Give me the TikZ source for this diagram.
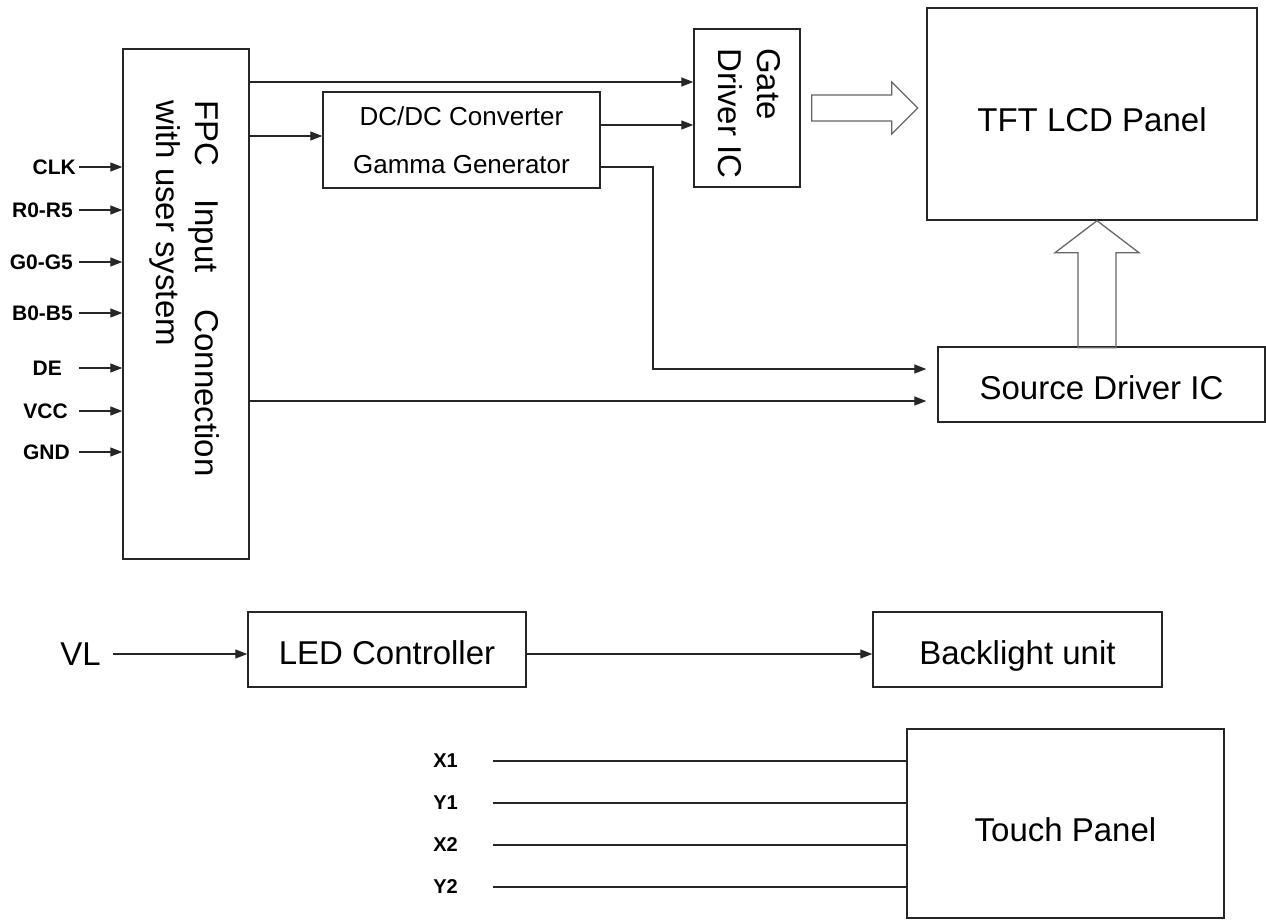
\documentclass[tikz,border=0pt]{standalone}
\usepackage{fontspec}
\setmainfont{Liberation Sans}
\usetikzlibrary{arrows.meta, calc}

\begin{document}
\begin{tikzpicture}[x=1pt, y=-1pt,
        blk/.style={draw=black!85, line width=1.4pt, inner sep=0pt, text height=30pt, text depth=0pt, font=\fontsize{33}{38}\selectfont},
        vtxt/.style={rotate=-90, inner sep=0pt, anchor=base west, font=\fontsize{33}{38}\selectfont},
        pin/.style={inner sep=0pt, anchor=east, font=\fontsize{21}{24}\selectfont\bfseries},
        arr/.style={line width=1.3pt, draw=black!85, -{Triangle[length=12pt,width=9pt]}},
        wire/.style={line width=1.3pt, draw=black!85},
        hollow/.style={line width=1.3pt, draw=black!60, line join=miter}]
        \useasboundingbox (0,0) rectangle (1266,920);

        % blocks
        \node[blk, minimum width=126pt, minimum height=510pt] (fpc) at (186,304) {};
        \node[blk, text height=, text depth=, minimum width=277pt, minimum height=96pt, align=center, font=\fontsize{26}{47.5}\selectfont] (dcdc) at (461.5,140) {DC/DC Converter\\Gamma Generator};
        \node[blk, minimum width=106pt, minimum height=158pt] (gate) at (747,108) {};
        \node[blk, minimum width=330pt, minimum height=212pt, text height=36pt] (tft) at (1092,114) {TFT LCD Panel};
        \node[blk, minimum width=327pt, minimum height=75pt] (src) at (1101.5,384.5) {Source Driver IC};
        \node[blk, minimum width=278pt, minimum height=75pt] (led) at (387,649.5) {LED Controller};
        \node[blk, minimum width=289pt, minimum height=75pt] (bl) at (1017.5,649.5) {Backlight unit};
        \node[blk, minimum width=317pt, minimum height=189pt, text height=36pt] (touch) at (1065.5,823.5) {Touch Panel};

        % rotated texts
        \node[vtxt] (fpc-l1) at (195,100) {FPC\hspace{33pt}Input\hspace{37pt}Connection};
        \node[vtxt] (fpc-l2) at (156,100) {with user system};
        \node[vtxt] (gate-l1) at (757,48) {Gate};
        \node[vtxt] (gate-l2) at (718,48) {Driver IC};

        % inputs of the FPC
        \foreach \id/\txt/\xr/\y in {clk/CLK/76/167, r/R0-R5/73/210, g/G0-G5/73/262, b/B0-B5/73/313, de/DE/62/368, vcc/VCC/68/411, gnd/GND/70/452} {
            \node[pin] (\id) at (\xr,\y) {\txt};
            \coordinate (\id-s) at (79,\y);
            \draw[arr] (\id-s) -- (\id-s -| fpc.west);
        }

        % FPC outputs
        \draw[arr] (fpc.east |- 0,82) -- (gate.west |- 0,82);
        \draw[arr] (fpc.east |- 0,136) -- (dcdc.west |- 0,136);
        \draw[arr] (dcdc.east |- 0,125) -- (gate.west |- 0,125);
        \draw[arr, shorten >=11pt] (dcdc.east |- 0,167) -| (653,369) -- (src.west |- 0,369);
        \draw[arr, shorten >=11pt] (fpc.east |- 0,401) -- (src.west |- 0,401);

        % hollow arrows to the panel
        \draw[hollow, shift={(gate.east)}] (11,-13) -- (91,-13) -- (91,-26) -- (117,0) -- (91,26) -- (91,13) -- (11,13) -- cycle;
        \draw[hollow, shift={(tft.south)}] (-14,127) -- (-14,32) -- (-37,32) -- (5,0) -- (47,32) -- (24,32) -- (24,127) -- cycle;

        % backlight
        \node[inner sep=0pt, anchor=east, font=\fontsize{33}{38}\selectfont] (vl) at (101,654) {VL};
        \draw[arr] ([xshift=12pt]vl.east) -- (led.west |- vl.east);
        \draw[arr] (led.east |- 0,654) -- (bl.west |- 0,654);

        % touch lines
        \foreach \n/\y in {X1/761, Y1/803, X2/845, Y2/887} {
            \node[pin, font=\fontsize{20}{24}\selectfont\bfseries] (\n) at (458,\y) {\n};
            \coordinate (\n-s) at (493,\y);
            \draw[wire] (\n-s) -- (\n-s -| touch.west);
        }
    \end{tikzpicture}
\end{document}
